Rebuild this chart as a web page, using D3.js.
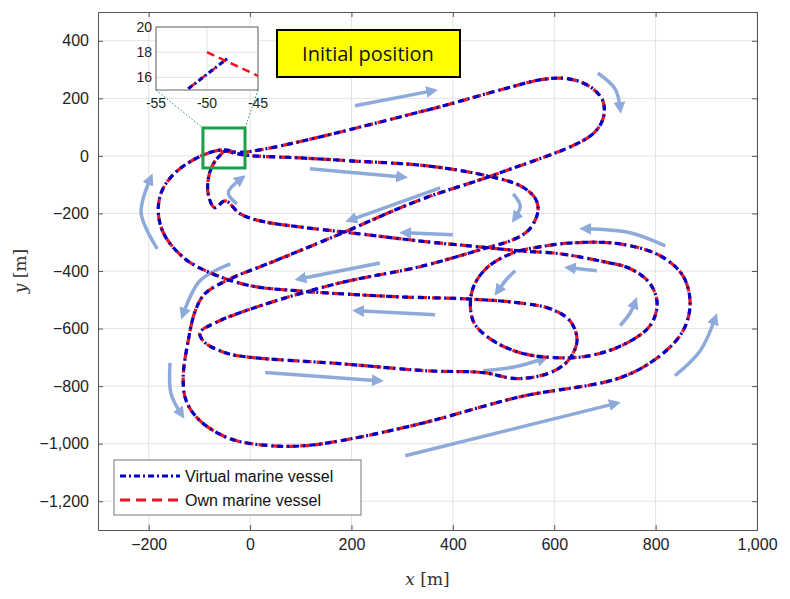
<!DOCTYPE html>
<html><head><meta charset="utf-8">
<script src="https://cdn.jsdelivr.net/npm/d3@7"></script>
<style>body{margin:0;background:#fff}</style>
</head><body>
<svg id="chart" width="790" height="599"></svg>
<script>
// trajectory (x, y in metres)
const pathX = [-50,-10,99,197,351,467,533,562,568,552,523,460,335,178,20,-69,-99,-89,-49,-10,178,351,460,527,592,627,645,631,592,527,428,296,178,95,0,-79,-128,-168,-181,-174,-148,-108,-75,-49,-20,
  351,493,582,631,671,696,696,671,493,335,178,39,-39,-89,-108,-122,-132,-126,-99,-39,39,108,178,335,533,730,809,854,868,854,809,730,637,572,519,467,438,440,473,533,602,671,740,789,803,789,750,690,611,533,428,351,197,99,20,-20,-49,-70,-83,-80,-68,-60,-52,-48];
const pathY = [18,3,-7,-17,-35,-69,-104,-146,-191,-253,-288,-323,-385,-441,-521,-580,-615,-649,-684,-698,-722,-747,-753,-774,-753,-712,-642,-573,-531,-510,-497,-490,-479,-469,-451,-406,-358,-278,-198,-122,-59,-10,14,21,12,
  160,229,267,267,240,191,128,69,-59,-153,-271,-372,-427,-479,-538,-642,-771,-851,-920,-983,-1007,-1007,-990,-931,-837,-771,-694,-608,-514,-417,-347,-306,-302,-316,-337,-389,-469,-573,-635,-684,-701,-694,-653,-590,-514,-444,-392,-365,-340,-330,-312,-299,-267,-247,-226,-201,-156,-180,-128,-60,-15,0,15,17.5];

// direction arrows: each is a list of [x, y] points, head at the last one
const arrows = [
  [[207,174],[359,226]],
  [[686,288],[720,233],[730,167]],
  [[118,-45],[300,-73]],
  [[375,-111],[199,-222]],
  [[519,-132],[533,-174],[523,-215]],
  [[400,-274],[306,-267]],
  [[-26,-167],[-43,-128],[-18,-80]],
  [[-183,-323],[-215,-198],[-197,-80]],
  [[-39,-375],[-99,-434],[-132,-549]],
  [[365,-552],[213,-538]],
  [[30,-753],[252,-781]],
  [[-158,-719],[-156,-826],[-136,-896]],
  [[460,-747],[523,-733],[578,-705]],
  [[306,-1042],[720,-861]],
  [[838,-764],[888,-677],[917,-566]],
  [[819,-313],[750,-267],[661,-253]],
  [[684,-399],[631,-389]],
  [[523,-399],[507,-427],[489,-469]],
  [[730,-590],[750,-545],[759,-510]],
  [[256,-372],[99,-427]]
];

const xTicks = [-200,0,200,400,600,800,1000];
const yTicks = [400,200,0,-200,-400,-600,-800,-1000,-1200];
const insetXTicks = [-55,-50,-45];
const insetYTicks = [16,18,20];
const seriesNames = ["Virtual marine vessel","Own marine vessel"];

const svg = d3.select('#chart');
const L = 98, R = 757, T = 12, B = 530;
const x = d3.scaleLinear().domain([-300,1000]).range([L,R]);
const y = d3.scaleLinear().domain([-1300,500]).range([B,T]);
const font = 'Liberation Sans, Arial, sans-serif';

// grid
svg.append('g').selectAll('line').data(xTicks).join('line')
  .attr('x1',d=>x(d)).attr('x2',d=>x(d)).attr('y1',T).attr('y2',B)
  .attr('stroke','#e3e3e3');
svg.append('g').selectAll('line').data(yTicks).join('line')
  .attr('y1',d=>y(d)).attr('y2',d=>y(d)).attr('x1',L).attr('x2',R)
  .attr('stroke','#e3e3e3');

// axes
const ax = svg.append('g').attr('transform',`translate(0,${B})`)
  .call(d3.axisBottom(x).tickValues(xTicks).tickSizeInner(-5).tickSizeOuter(0).tickPadding(9));
const ay = svg.append('g').attr('transform',`translate(${L},0)`)
  .call(d3.axisLeft(y).tickValues(yTicks).tickSizeInner(-5).tickSizeOuter(0).tickPadding(9));
svg.append('g').attr('transform',`translate(0,${T})`)
  .call(d3.axisTop(x).tickValues(xTicks).tickSizeInner(-5).tickSizeOuter(0).tickFormat(''));
svg.append('g').attr('transform',`translate(${R},0)`)
  .call(d3.axisRight(y).tickValues(yTicks).tickSizeInner(-5).tickSizeOuter(0).tickFormat(''));
svg.selectAll('.domain').attr('stroke','#555');
svg.selectAll('.tick line').attr('stroke','#555');
svg.selectAll('.tick text').attr('font-family',font).attr('font-size',16).attr('fill','#222');

svg.append('text').attr('x',(L+R)/2).attr('y',585).attr('text-anchor','middle')
  .attr('font-family','DejaVu Serif, serif').attr('font-size',17).attr('fill','#333')
  .html('<tspan font-style="italic">x</tspan> [m]');
svg.append('text').attr('transform',`translate(26,${(T+B)/2}) rotate(-90)`).attr('text-anchor','middle')
  .attr('font-family','DejaVu Serif, serif').attr('font-size',17).attr('fill','#333')
  .html('<tspan font-style="italic">y</tspan> [m]');

// arrows
svg.append('defs').append('marker').attr('id','ah').attr('viewBox','0 0 10 10')
  .attr('refX',5).attr('refY',5).attr('markerWidth',3.4).attr('markerHeight',3.4)
  .attr('orient','auto').attr('markerUnits','strokeWidth')
  .append('path').attr('d','M0,0 L10,5 L0,10 z').attr('fill','#8eaadb');
const aline = d3.line().x(d=>x(d[0])).y(d=>y(d[1])).curve(d3.curveCatmullRom);
svg.append('g').selectAll('path').data(arrows).join('path')
  .attr('d',aline).attr('fill','none').attr('stroke','#8eaadb').attr('stroke-width',3.5)
  .attr('marker-end','url(#ah)');

// trajectories
const pts = pathX.map((v,i)=>[v,pathY[i]]);
const line = d3.line().x(d=>x(d[0])).y(d=>y(d[1])).curve(d3.curveCatmullRom);
svg.append('path').attr('d',line(pts)).attr('fill','none')
  .attr('stroke','#e8141e').attr('stroke-width',3.2).attr('stroke-dasharray','9,5');
svg.append('path').attr('d',line(pts)).attr('fill','none')
  .attr('stroke','#0000c8').attr('stroke-width',3.2).attr('stroke-dasharray','6,4,2,4')
  .attr('stroke-dashoffset',3);

// zoom box and connectors
const ix = d3.scaleLinear().domain([-55,-45]).range([156,258]);
const iy = d3.scaleLinear().domain([15,20]).range([90,27]);
svg.append('rect').attr('x',x(-93)).attr('y',y(97)).attr('width',x(-10)-x(-93)).attr('height',y(-42)-y(97))
  .attr('fill','none').attr('stroke','#1aa04a').attr('stroke-width',3);
[[156,-93],[258,-10]].forEach(([px,dx])=>{
  svg.append('line').attr('x1',px).attr('y1',90).attr('x2',x(dx)).attr('y2',y(97))
    .attr('stroke','#1aa04a').attr('stroke-dasharray','1.5,2');
});

// inset
const ig = svg.append('g');
ig.append('rect').attr('x',156).attr('y',27).attr('width',102).attr('height',63).attr('fill','#fff');
ig.append('defs').append('clipPath').attr('id','ic').append('rect')
  .attr('x',156).attr('y',27).attr('width',102).attr('height',63);
ig.selectAll('.gx').data(insetXTicks).join('line').attr('x1',d=>ix(d)).attr('x2',d=>ix(d))
  .attr('y1',27).attr('y2',90).attr('stroke','#e3e3e3');
ig.selectAll('.gy').data(insetYTicks).join('line').attr('y1',d=>iy(d)).attr('y2',d=>iy(d))
  .attr('x1',156).attr('x2',258).attr('stroke','#e3e3e3');
const iline = d3.line().x(d=>ix(d[0])).y(d=>iy(d[1]));
const near = pts.filter(d=>d[0]>-70 && d[0]<0 && d[1]>0 && d[1]<25);
const startSeg = [pts[0],pts[1]];
const endSeg = pts.slice(-3);
const cg = ig.append('g').attr('clip-path','url(#ic)');
[startSeg,endSeg].forEach(s=>{
  cg.append('path').attr('d',iline(s)).attr('fill','none').attr('stroke','#e8141e')
    .attr('stroke-width',2.5).attr('stroke-dasharray','8,5');
});
cg.append('path').attr('d',iline(endSeg)).attr('fill','none').attr('stroke','#0000c8')
  .attr('stroke-width',3).attr('stroke-dasharray','5,3,2,3');
ig.append('rect').attr('x',156).attr('y',27).attr('width',102).attr('height',63)
  .attr('fill','none').attr('stroke','#666');
ig.selectAll('.tx').data(insetXTicks).join('text').attr('x',d=>ix(d)).attr('y',108)
  .attr('text-anchor','middle').attr('font-family',font).attr('font-size',14).attr('fill','#222').text(d=>d);
ig.selectAll('.ty').data(insetYTicks).join('text').attr('x',152).attr('y',d=>iy(d)+5)
  .attr('text-anchor','end').attr('font-family',font).attr('font-size',14).attr('fill','#222').text(d=>d);

// annotation
svg.append('rect').attr('x',277).attr('y',30).attr('width',183).attr('height',47)
  .attr('fill','#ffff00').attr('stroke','#000').attr('stroke-width',2);
svg.append('text').attr('x',368).attr('y',61).attr('text-anchor','middle')
  .attr('font-family','Open Sans, sans-serif').attr('font-size',20).attr('fill','#111').text('Initial position');

// legend
const lg = svg.append('g');
lg.append('rect').attr('x',114).attr('y',460).attr('width',247).attr('height',55)
  .attr('fill','#fff').attr('stroke','#777');
const lstyles = [{c:'#0000c8',d:'6,3,2,3'},{c:'#e8141e',d:'10,6'}];
seriesNames.forEach((n,i)=>{
  const yy = 476 + i*24;
  lg.append('line').attr('x1',120).attr('x2',180).attr('y1',yy).attr('y2',yy)
    .attr('stroke',lstyles[i].c).attr('stroke-width',3.2).attr('stroke-dasharray',lstyles[i].d);
  lg.append('text').attr('x',185).attr('y',yy+6).attr('font-family',font).attr('font-size',16)
    .attr('fill','#111').text(n);
});
</script>
</body></html>
